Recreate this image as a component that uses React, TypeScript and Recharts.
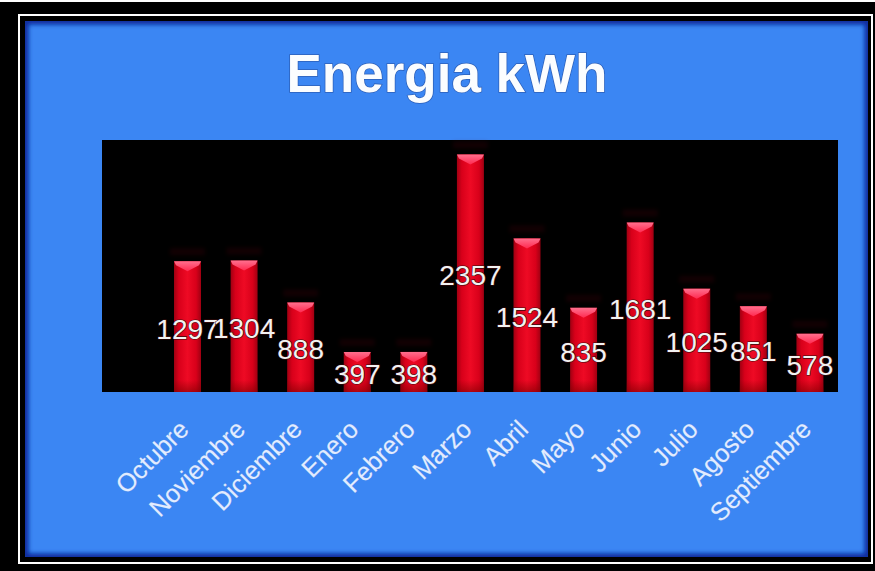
import React from 'react';
import { BarChart, Bar, XAxis, YAxis, LabelList } from 'recharts';

// Monthly energy production, October through September
const months = [
  'Octubre', 'Noviembre', 'Diciembre', 'Enero', 'Febrero', 'Marzo',
  'Abril', 'Mayo', 'Junio', 'Julio', 'Agosto', 'Septiembre',
];
const energyKwh = [1297, 1304, 888, 397, 398, 2357, 1524, 835, 1681, 1025, 851, 578];
const yDomain = [0, 2500];
const title = 'Energia kWh';

const data = months.map((month, i) => ({ month, kwh: energyKwh[i] }));

const W = 875;
const H = 571;
const FONT = '"Liberation Sans", Arial, sans-serif';

// Glossy red column with a pink bevelled cap
const RedBar = (props: any) => {
  const { x, y, width, height } = props;
  if (!height || height <= 0) return null;
  const cap = Math.min(10, height);
  return (
    <g>
      <rect x={x - 4} y={y - 13} width={width + 8} height={7} fill="#6a0010" opacity={0.18} filter="url(#haze)" />
      <rect x={x} y={y} width={width} height={height} fill="url(#barBody)" />
      <rect x={x} y={y + height - 12} width={width} height={12} fill="url(#barFoot)" />
      <polygon
        points={`${x},${y} ${x + width},${y} ${x + width - 2},${y + 4} ${x + width / 2},${y + cap} ${x + 2},${y + 4}`}
        fill="url(#barCap)"
      />
    </g>
  );
};

const MonthTick = (props: any) => {
  const { x, y, payload } = props;
  const ax = x + 3;
  const ay = y + 39;
  return (
    <text
      x={ax}
      y={ay}
      transform={`rotate(-45, ${ax}, ${ay})`}
      textAnchor="end"
      fontSize={25.5}
      fontFamily={FONT}
      fill="#e2ecff"
      stroke="#6f9ce8"
      strokeWidth={0.6}
      paintOrder="stroke"
    >
      {payload.value}
    </text>
  );
};

export default function App() {
  return (
    <div style={{ position: 'absolute', left: 0, top: 0, width: W, height: H }}>
      <svg width={W} height={H} style={{ position: 'absolute', left: 0, top: 0 }}>
        <defs>
          <filter id="edgeBlur" x="-5%" y="-5%" width="110%" height="110%">
            <feGaussianBlur stdDeviation="2" />
          </filter>
          <clipPath id="panelClip">
            <rect x={25} y={21} width={843} height={536} />
          </clipPath>
        </defs>
        <rect x={0} y={0} width={W} height={H} fill="#000" />
        <rect x={0} y={0} width={W} height={2} fill="#fff" />
        <rect x={19} y={15} width={853} height={548} fill="none" stroke="#fff" strokeWidth={2} />
        <rect x={25} y={21} width={843} height={536} fill="#3b86f3" />
        <g clipPath="url(#panelClip)">
          <rect
            x={25}
            y={21}
            width={843}
            height={536}
            fill="none"
            stroke="#0a2a9c"
            strokeWidth={7}
            filter="url(#edgeBlur)"
          />
        </g>
        <rect x={102} y={140} width={736} height={252} fill="#000" />
        <text
          x={447}
          y={92}
          textAnchor="middle"
          fontSize={53}
          fontWeight="bold"
          fontFamily={FONT}
          fill="#fbfdff"
          stroke="#2c5fb8"
          strokeWidth={1.5}
          paintOrder="stroke"
        >
          {title}
        </text>
      </svg>

      <div style={{ position: 'absolute', left: 0, top: 0 }}>
        <BarChart
          width={W}
          height={H}
          data={data}
          margin={{ top: 140, right: 37, left: 159, bottom: 0 }}
          barSize={27}
        >
          <defs>
            <linearGradient id="barBody" x1="0" y1="0" x2="1" y2="0">
              <stop offset="0%" stopColor="#a00012" />
              <stop offset="18%" stopColor="#d8001a" />
              <stop offset="50%" stopColor="#ee0a24" />
              <stop offset="82%" stopColor="#d8001a" />
              <stop offset="100%" stopColor="#a00012" />
            </linearGradient>
            <linearGradient id="barFoot" x1="0" y1="0" x2="0" y2="1">
              <stop offset="0%" stopColor="#7a0000" stopOpacity={0} />
              <stop offset="100%" stopColor="#7a0000" stopOpacity={0.55} />
            </linearGradient>
            <linearGradient id="barCap" x1="0" y1="0" x2="0" y2="1">
              <stop offset="0%" stopColor="#ff6f8e" />
              <stop offset="100%" stopColor="#ff2a50" />
            </linearGradient>
            <filter id="haze" x="-20%" y="-50%" width="140%" height="200%">
              <feGaussianBlur stdDeviation="2" />
            </filter>
          </defs>
          <XAxis
            dataKey="month"
            height={179}
            axisLine={false}
            tickLine={false}
            tickSize={0}
            tickMargin={0}
            interval={0}
            tick={<MonthTick />}
          />
          <YAxis hide domain={yDomain} />
          <Bar dataKey="kwh" shape={<RedBar />} isAnimationActive={false}>
            <LabelList
              dataKey="kwh"
              position="center"
              fill="#f2f2f2"
              fontSize={28}
              fontFamily={FONT}
              stroke="#3a0c0c"
              strokeWidth={1.2}
              paintOrder="stroke"
              dy={2}
            />
          </Bar>
        </BarChart>
      </div>
    </div>
  );
}
